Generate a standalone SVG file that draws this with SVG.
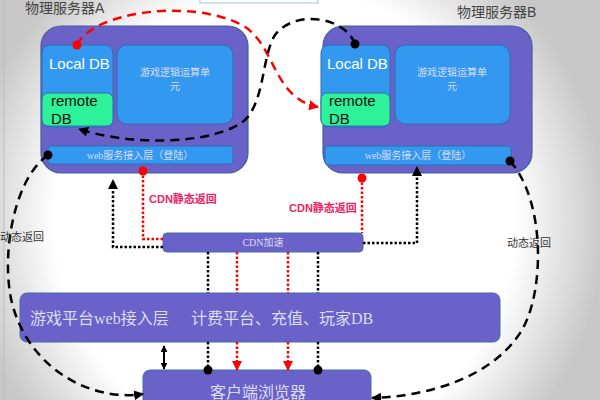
<svg xmlns="http://www.w3.org/2000/svg" width="600" height="400" viewBox="0 0 600 400">
<defs>
<radialGradient id="bg" gradientUnits="userSpaceOnUse" cx="285" cy="220" r="320">
<stop offset="0" stop-color="#ffffff"/>
<stop offset="0.72" stop-color="#ffffff"/>
<stop offset="1" stop-color="#c8c8c8"/>
</radialGradient>
<marker id="ab" viewBox="0 0 10 10" refX="9" refY="5" markerWidth="4" markerHeight="4" orient="auto"><path d="M0,0 L10,5 L0,10 z" fill="#000"/></marker>
<marker id="ar" viewBox="0 0 10 10" refX="9" refY="5" markerWidth="4" markerHeight="4" orient="auto"><path d="M0,0 L10,5 L0,10 z" fill="#f00"/></marker>
<marker id="abs" viewBox="0 0 10 10" refX="9" refY="5" markerWidth="3.5" markerHeight="3.5" orient="auto-start-reverse"><path d="M0,0 L10,5 L0,10 z" fill="#000"/></marker>
<marker id="db" viewBox="0 0 10 10" refX="5" refY="5" markerWidth="4" markerHeight="4"><circle cx="5" cy="5" r="4.5" fill="#000"/></marker>
<marker id="dr" viewBox="0 0 10 10" refX="5" refY="5" markerWidth="4" markerHeight="4"><circle cx="5" cy="5" r="4.5" fill="#f00"/></marker>
</defs>
<style>
.outer{fill:#6a62c8;stroke:#3f5f9a;stroke-width:1.2}
.blue{fill:#3399f0;stroke:#2c6eb0;stroke-width:1}
.green{fill:#2ef29a;stroke:#2c6eb0;stroke-width:1}
.bar{fill:#6a62c8;stroke:#3f6fa6;stroke-width:1}
.cjk{font-family:"Liberation Serif","Noto Sans CJK SC",serif;fill:#dcdcf4}
.sans{font-family:"Liberation Sans","Noto Sans CJK SC",sans-serif}
.title{font-family:"Liberation Sans","Noto Sans CJK SC",sans-serif;font-size:14px;fill:#444}
.lbl{font-family:"Liberation Sans","Noto Sans CJK SC",sans-serif;font-size:11px;fill:#333}
.cdnl{font-family:"Liberation Sans","Noto Sans CJK SC",sans-serif;font-size:11px;font-weight:bold;fill:#ee2266}
.dash{fill:none;stroke:#000;stroke-width:2.5;stroke-dasharray:9,6}
.rdash{fill:none;stroke:#f00;stroke-width:2.5;stroke-dasharray:9,6}
.dot{fill:none;stroke:#000;stroke-width:2.5;stroke-dasharray:2.5,2}
.rdot{fill:none;stroke:#f00;stroke-width:2.5;stroke-dasharray:2.5,2}
</style>
<rect x="0" y="0" width="600" height="400" fill="url(#bg)"/>
<line x1="4" y1="0" x2="4" y2="400" stroke="#bdbdbd" stroke-width="1"/>
<rect x="200" y="-10" width="118" height="13" fill="#fff" stroke="#9cc3e6" stroke-width="1"/>
<text class="title" x="25" y="13">物理服务器A</text>
<text class="title" x="457" y="17">物理服务器B</text>

<g id="serverA">
<rect class="outer" x="41" y="26" width="207" height="147" rx="20"/>
<rect class="blue" x="42" y="45" width="71" height="82" rx="8"/>
<rect class="green" x="42" y="93" width="71" height="33" rx="6"/>
<text class="sans" x="49" y="69" font-size="15" fill="#fff">Local DB</text>
<text class="sans" x="51" y="106" font-size="15" fill="#111">remote</text>
<text class="sans" x="51" y="124" font-size="15" fill="#111">DB</text>
<rect class="blue" x="117" y="45" width="116" height="79" rx="10"/>
<text class="cjk" x="175" y="76" font-size="10" text-anchor="middle">游戏逻辑运算单</text>
<text class="cjk" x="175" y="90" font-size="10" text-anchor="middle">元</text>
<rect class="blue" x="48" y="146" width="185" height="18" rx="3"/>
<text class="cjk" x="140" y="159" font-size="10" text-anchor="middle" fill="#e8e8ff">web服务接入层（登陆）</text>
</g>

<g id="serverB">
<rect class="outer" x="323" y="26" width="209" height="147" rx="20"/>
<rect class="blue" x="321" y="45" width="69" height="82" rx="8"/>
<rect class="green" x="321" y="93" width="69" height="33" rx="6"/>
<text class="sans" x="327" y="69" font-size="15" fill="#fff">Local DB</text>
<text class="sans" x="329" y="106" font-size="15" fill="#111">remote</text>
<text class="sans" x="329" y="124" font-size="15" fill="#111">DB</text>
<rect class="blue" x="395" y="45" width="115" height="79" rx="10"/>
<text class="cjk" x="452" y="76" font-size="10" text-anchor="middle">游戏逻辑运算单</text>
<text class="cjk" x="452" y="90" font-size="10" text-anchor="middle">元</text>
<rect class="blue" x="325" y="146" width="186" height="19" rx="3"/>
<text class="cjk" x="418" y="159" font-size="10" text-anchor="middle" fill="#e8e8ff">web服务接入层（登陆）</text>
</g>

<g id="cdn">
<rect class="bar" x="163" y="233" width="200" height="19" rx="4"/>
<text class="cjk" x="263" y="246" font-size="10" text-anchor="middle">CDN加速</text>
</g>

<g id="platform">
<rect class="bar" x="20" y="293" width="480" height="49" rx="7"/>
<text class="cjk" x="30" y="324" font-size="16">游戏平台web接入层</text>
<text class="cjk" x="191" y="324" font-size="16">计费平台、充值、玩家DB</text>
</g>

<g id="client">
<rect class="bar" x="143" y="370" width="228" height="40" rx="7"/>
<text class="cjk" x="258" y="398" font-size="16" text-anchor="middle">客户端浏览器</text>
</g>

<g id="connectors">
<path class="rdash" d="M77,45 C92,12 190,-2 242,25 C276,44 272,98 318,107" marker-start="url(#dr)" marker-end="url(#ar)"/>
<path class="dash" d="M355,44 C346,18 296,8 275,35 C262,55 265,100 245,120 C215,145 130,146 79,129" marker-start="url(#db)" marker-end="url(#ab)"/>
<path class="dash" d="M48,155 C10,182 0,268 14,310 C32,368 90,402 143,394" marker-start="url(#db)" marker-end="url(#ab)"/>
<path class="dash" d="M510,161 C545,200 545,290 522,330 C494,376 432,396 372,398" marker-start="url(#db)" marker-end="url(#ab)"/>
<path class="rdot" d="M143,171 L143,239 L163,239" marker-start="url(#dr)"/>
<path class="rdot" d="M362,178 L362,233" marker-start="url(#dr)"/>
<path class="dot" d="M163,247 L113,247 L113,180" marker-end="url(#ab)"/>
<path class="dot" d="M363,243 L417,243 L417,167" marker-end="url(#ab)"/>
<path class="dot" d="M208,252 L208,293"/>
<path class="dot" d="M208,342 L208,370" marker-end="url(#db)"/>
<path class="rdot" d="M237,252 L237,293"/>
<path class="rdot" d="M237,342 L237,370" marker-end="url(#ar)"/>
<path class="rdot" d="M288,252 L288,293"/>
<path class="rdot" d="M288,342 L288,370" marker-end="url(#ar)"/>
<path class="dot" d="M318,252 L318,293"/>
<path class="dot" d="M318,342 L318,370" marker-end="url(#db)"/>
<path d="M164,346 L164,369" fill="none" stroke="#000" stroke-width="2" marker-start="url(#abs)" marker-end="url(#abs)"/>
<text class="cdnl" x="149" y="203">CDN静态返回</text>
<text class="cdnl" x="289" y="212">CDN静态返回</text>
<text class="lbl" x="0" y="241">动态返回</text>
<text class="lbl" x="507" y="247">动态返回</text>
</g>
</svg>
